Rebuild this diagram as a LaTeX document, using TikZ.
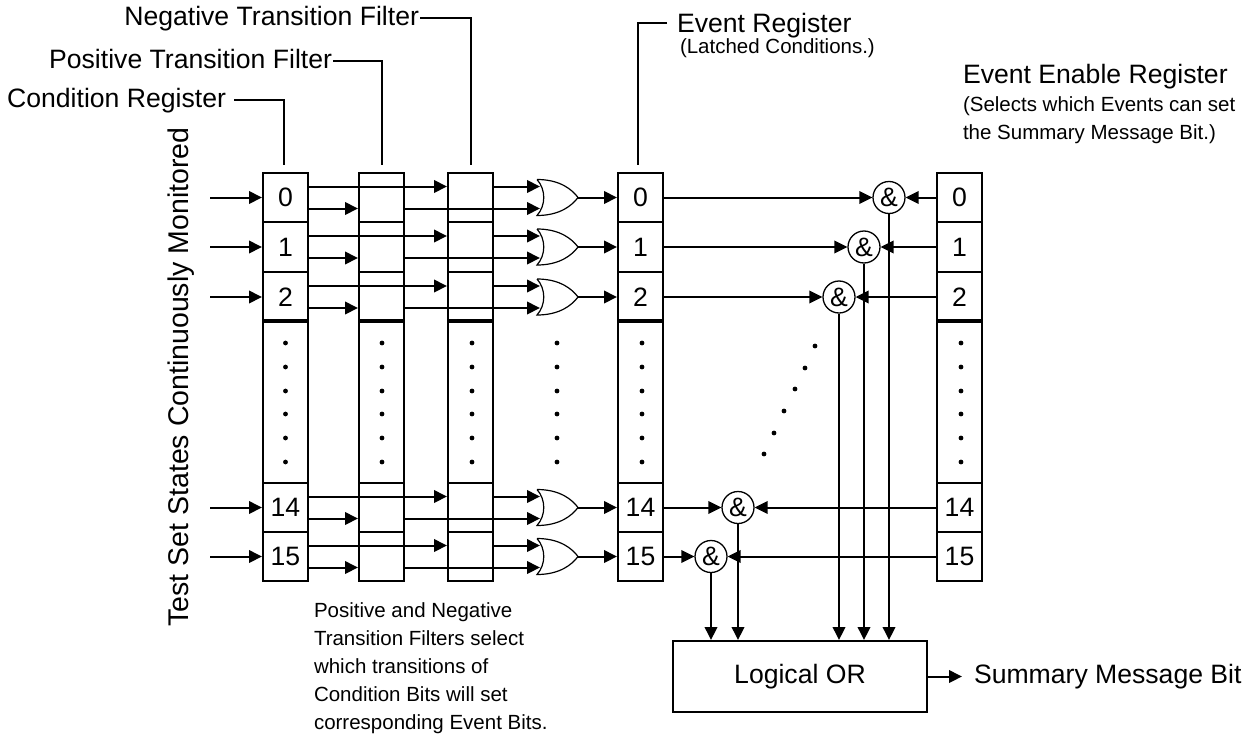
\documentclass[tikz,border=0pt]{standalone}
\usepackage{fontspec}
\setmainfont{Liberation Sans}
\usetikzlibrary{arrows.meta,calc}
\begin{document}
\begin{tikzpicture}[x=1pt,y=-1pt,
  line width=2pt,
  big/.style={font=\fontsize{26.6}{32}\selectfont},
  small/.style={font=\fontsize{20.5}{28}\selectfont},
  cell/.style={draw,line width=2pt,minimum width=45pt,minimum height=49.5pt,inner sep=0pt,big},
  dotsec/.style={draw,line width=2pt,minimum width=45pt,minimum height=161pt,inner sep=0pt},
  andg/.style={draw,circle,line width=1.3pt,minimum size=32pt,inner sep=0pt,big},
  arr/.style={-{Triangle[length=13pt,width=12.5pt]}},
  orshape/.style={line width=1.2pt},
  lbl/.style={big,inner sep=0pt},
]
\useasboundingbox (0,0) rectangle (1257,733);

% Logical OR box
\node[draw,line width=2pt,minimum width=254pt,minimum height=71pt,inner sep=0pt,big] (LOR) at (800,676.5) {Logical OR};
\coordinate (smb) at (962,676.5);
\draw[arr] (LOR.east) -- (smb);
\node[lbl,anchor=west] (smbt) at (973,676.5) {Summary Message Bit};

% dotted sections
\foreach \n/\x in {C/285.5,P/381.5,N/470.5,E/640.5,EN/959.5}{
  \node[dotsec] (D\n) at (\x,402.5) {};
  \draw[line width=3.5pt] (D\n.north west) -- (D\n.north east);
}
\foreach \x in {285.5,382,472,557,642,961}
  \foreach \yy in {343,367,391,414,438,462}
    \fill (\x,\yy) circle (2.4pt);
\foreach \px/\py in {815/346,805/368,795/389,784/411,774/433,764/454}
  \fill (\px,\py) circle (2.4pt);

% rows
\foreach \r/\y/\ax in {0/197.5/889,1/247/864,2/297/839,14/507.5/738,15/556.5/711}{
  \node[cell] (C\r) at (285.5,\y) {\r};
  \node[cell] (P\r) at (381.5,\y) {};
  \node[cell] (N\r) at (470.5,\y) {};
  \node[cell] (E\r) at (640.5,\y) {\r};
  \node[cell] (EN\r) at (959.5,\y) {\r};
  \node[andg] (A\r) at (\ax,\y) {\&};
  \draw[orshape] (537,\y-18) .. controls (560,\y-18) and (572,\y-8) .. (578,\y)
     .. controls (572,\y+8) and (560,\y+18) .. (537,\y+18)
     .. controls (546,\y+8) and (546,\y-8) .. (537,\y-18);
  \coordinate (Ga\r) at (540,\y-11);
  \coordinate (Gb\r) at (540,\y+11);
  \coordinate (Go\r) at (578,\y);
  \coordinate (in\r) at (210,\y);
  \draw[arr] (in\r) -- (C\r.west);
  \draw[arr] ($(C\r.east)+(0,-11)$) -- ($(N\r.west)+(0,-11)$);
  \draw[arr] ($(C\r.east)+(0,11)$) -- ($(P\r.west)+(0,11)$);
  \draw[arr] ($(P\r.east)+(0,11)$) -- (Gb\r);
  \draw[arr] ($(N\r.east)+(0,-11)$) -- (Ga\r);
  \draw[arr] (Go\r) -- (E\r.west);
  \draw[arr] (E\r.east) -- (A\r.west);
  \draw[arr] (EN\r.west) -- (A\r.east);
  \draw[arr] (A\r.south) -- (A\r.south |- LOR.north);
}

% top labels
\node[lbl,anchor=base east] (lN) at (420,26) {Negative Transition Filter};
\coordinate (tN) at (470.5,165);
\draw ([yshift=8pt]lN.base east) -| (tN);
\node[lbl,anchor=base east] (lP) at (333,69) {Positive Transition Filter};
\coordinate (tP) at (381.5,165);
\draw ([yshift=8pt]lP.base east) -| (tP);
\node[lbl,anchor=base east] (lC) at (227,108) {Condition Register};
\coordinate (tC) at (284,165);
\draw ([xshift=7pt,yshift=8pt]lC.base east) -| (tC);
\node[lbl,anchor=base west] (lE) at (676,33) {Event Register};
\coordinate (tE) at (638,165);
\draw ([xshift=-9pt,yshift=10pt]lE.base west) -| (tE);
\node[small,inner sep=0pt,anchor=base west] (lLC) at (679,54) {(Latched Conditions.)};
\node[lbl,anchor=base west] (lEN) at (962,84) {Event Enable Register};
\node[small,inner sep=0pt,anchor=north west,align=left] (lSel) at (962,96) {(Selects which Events can set\\the Summary Message Bit.)};

% side and bottom texts
\node[inner sep=0pt,font=\fontsize{28.5}{34}\selectfont,rotate=90] (lT) at (181,377) {Test Set States Continuously Monitored};
\node[small,inner sep=0pt,anchor=north west,align=left] (lB) at (313,602)
  {Positive and Negative\\Transition Filters select\\which transitions of\\Condition Bits will set\\corresponding Event Bits.};
\end{tikzpicture}
\end{document}
